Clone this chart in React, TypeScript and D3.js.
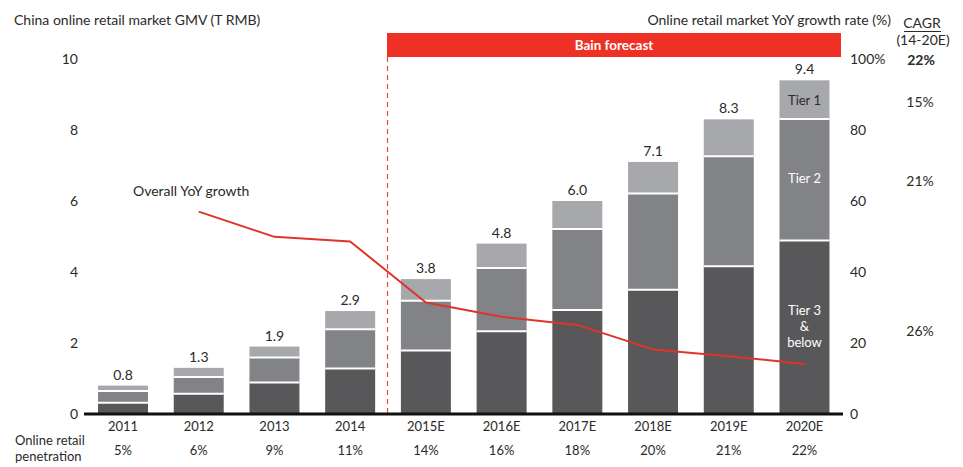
import React from "react";
import * as d3 from "d3";

const years = ["2011", "2012", "2013", "2014", "2015E", "2016E", "2017E", "2018E", "2019E", "2020E"];
const tier3 = [0.32, 0.57, 0.89, 1.28, 1.79, 2.33, 2.93, 3.5, 4.16, 4.89];
const tier2 = [0.33, 0.47, 0.7, 1.11, 1.4, 1.78, 2.28, 2.71, 3.1, 3.42];
const tier1 = [0.15, 0.26, 0.31, 0.51, 0.61, 0.69, 0.79, 0.89, 1.04, 1.09];
const totals = ["0.8", "1.3", "1.9", "2.9", "3.8", "4.8", "6.0", "7.1", "8.3", "9.4"];
const growthYears = ["2012", "2013", "2014", "2015E", "2016E", "2017E", "2018E", "2019E", "2020E"];
const growth = [57.0, 49.9, 48.6, 31.4, 27.4, 25.1, 18.2, 16.3, 14.1];
const penetration = ["5%", "6%", "9%", "11%", "14%", "16%", "18%", "20%", "21%", "22%"];
const leftTicks = [0, 2, 4, 6, 8, 10];
const rightTicks = [0, 20, 40, 60, 80, 100];
const cagrLabels = ["15%", "21%", "26%"];

const FONT = "Lato, 'Noto Sans', sans-serif";
const TXT = "#2a2a2a";
const C3 = "#58585b";
const C2 = "#818386";
const C1 = "#a7a8ab";
const RED = "#e0342a";

export default function App() {
  const x = d3.scaleBand<string>().domain(years).range([85.15, 842.35]).paddingInner(0.34).paddingOuter(0.17);
  const y = d3.scaleLinear().domain([0, 10]).range([414, 59]);
  const yr = d3.scaleLinear().domain([0, 100]).range([414, 59]);
  const bw = x.bandwidth();
  const cx = (c: string) => (x(c) as number) + bw / 2;

  const line = d3
    .line<number>()
    .x((_, i) => cx(growthYears[i]))
    .y((d) => yr(d));

  const last = years.length - 1;
  const lastX = cx(years[last]);
  const t3top = y(tier3[last]);
  const t2top = y(tier3[last] + tier2[last]);
  const t1top = y(tier3[last] + tier2[last] + tier1[last]);

  const forecastX = 387;

  return (
    <svg
      width={963}
      height={467}
      style={{ position: "absolute", left: 0, top: 0, background: "#fff" }}
      fontFamily={FONT}
    >
      {/* titles */}
      <text x={14} y={25} fontSize={14} fill={TXT}>
        China online retail market GMV (T RMB)
      </text>
      <text x={891} y={25} fontSize={14} fill={TXT} textAnchor="end">
        Online retail market YoY growth rate (%)
      </text>
      <text x={922} y={28} fontSize={14} fill={TXT} textAnchor="middle">
        CAGR
      </text>
      <line x1={904} x2={941} y1={31.5} y2={31.5} stroke={TXT} strokeWidth={1} />
      <text x={923} y={45} fontSize={14} fill={TXT} textAnchor="middle">
        (14-20E)
      </text>
      <text x={921} y={65} fontSize={14} fill={TXT} textAnchor="middle" fontWeight="bold">
        22%
      </text>
      {cagrLabels.map((c, i) => (
        <text key={c} x={920} y={[107, 186, 336][i]} fontSize={14} fill={TXT} textAnchor="middle">
          {c}
        </text>
      ))}

      {/* forecast banner */}
      <rect x={forecastX} y={33} width={841 - forecastX} height={24} fill="#ee3124" />
      <text x={614} y={50} fontSize={13.5} fill="#fff" fontWeight="bold" textAnchor="middle">
        Bain forecast
      </text>
      <line
        x1={forecastX + 0.5}
        x2={forecastX + 0.5}
        y1={57}
        y2={414}
        stroke="#e8453c"
        strokeWidth={1.2}
        strokeDasharray="5,4"
      />

      {/* left ticks */}
      {leftTicks.map((t) => (
        <text key={"l" + t} x={78} y={y(t) + 5} fontSize={14} fill={TXT} textAnchor="end">
          {t}
        </text>
      ))}
      {/* right ticks */}
      {rightTicks.map((t) => (
        <text key={"r" + t} x={850} y={yr(t) + 5} fontSize={14} fill={TXT}>
          {t === 100 ? "100%" : t}
        </text>
      ))}

      {/* bars */}
      {years.map((yrName, i) => {
        const bx = x(yrName) as number;
        const a = tier3[i];
        const b = a + tier2[i];
        const c = b + tier1[i];
        return (
          <g key={yrName}>
            <rect x={bx} y={y(a)} width={bw} height={y(0) - y(a)} fill={C3} />
            <rect x={bx} y={y(b)} width={bw} height={y(a) - y(b)} fill={C2} />
            <rect x={bx} y={y(c)} width={bw} height={y(b) - y(c)} fill={C1} />
            <line x1={bx} x2={bx + bw} y1={y(a)} y2={y(a)} stroke="#fff" strokeWidth={2} />
            <line x1={bx} x2={bx + bw} y1={y(b)} y2={y(b)} stroke="#fff" strokeWidth={2} />
            <text x={cx(yrName)} y={y(c) - 6} fontSize={14} fill={TXT} textAnchor="middle">
              {totals[i]}
            </text>
            <text x={cx(yrName)} y={431} fontSize={13} fill={TXT} textAnchor="middle">
              {yrName}
            </text>
            <text x={cx(yrName)} y={455} fontSize={13} fill={TXT} textAnchor="middle">
              {penetration[i]}
            </text>
          </g>
        );
      })}

      {/* baseline */}
      <line x1={84} x2={843} y1={414} y2={414} stroke="#111" strokeWidth={3} />

      {/* tier labels */}
      <text x={lastX} y={(t1top + t2top) / 2 + 5} fontSize={13} fill={TXT} textAnchor="middle">
        Tier 1
      </text>
      <text x={lastX} y={183} fontSize={13} fill="#fff" textAnchor="middle">
        Tier 2
      </text>
      <text x={lastX} y={315} fontSize={13} fill="#fff" textAnchor="middle">
        Tier 3
      </text>
      <text x={lastX} y={331} fontSize={13} fill="#fff" textAnchor="middle">
        &amp;
      </text>
      <text x={lastX} y={347} fontSize={13} fill="#fff" textAnchor="middle">
        below
      </text>

      {/* growth line */}
      <path d={line(growth) as string} fill="none" stroke={RED} strokeWidth={2} strokeLinejoin="round" />
      <text x={133} y={196} fontSize={14} fill={TXT}>
        Overall YoY growth
      </text>

      {/* penetration label */}
      <text x={15} y={445} fontSize={13} fill={TXT}>
        Online retail
      </text>
      <text x={15} y={461} fontSize={13} fill={TXT}>
        penetration
      </text>
    </svg>
  );
}
